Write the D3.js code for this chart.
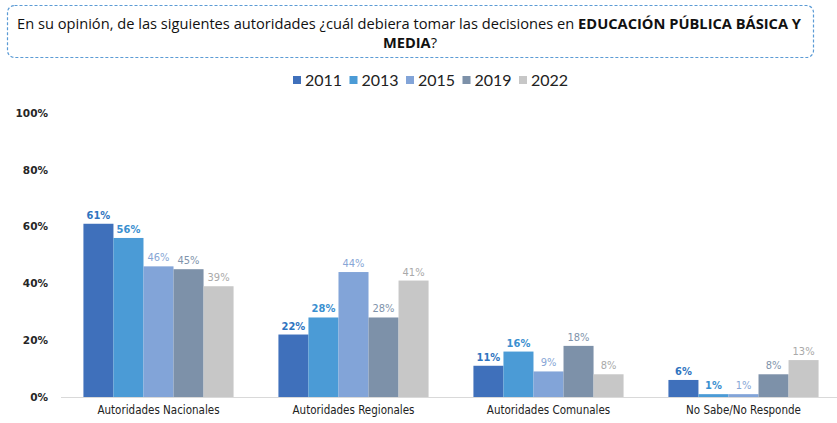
<!DOCTYPE html>
<html>
<head>
<meta charset="utf-8">
<script src="https://cdn.jsdelivr.net/npm/d3@7"></script>
<style>
  body { margin: 0; background: #fff; }
  svg { display: block; }
</style>
</head>
<body>
<div id="chart"></div>
<script>
const categories = ['Autoridades Nacionales', 'Autoridades Regionales', 'Autoridades Comunales', 'No Sabe/No Responde'];
const years = ['2011', '2013', '2015', '2019', '2022'];
const values2011 = [61, 22, 11, 6];
const values2013 = [56, 28, 16, 1];
const values2015 = [46, 44, 9, 1];
const values2019 = [45, 28, 18, 8];
const values2022 = [39, 41, 8, 13];
const yTicks = [0, 20, 40, 60, 80, 100];

const series = [values2011, values2013, values2015, values2019, values2022];
const barColours = ['#3f70bb', '#4b9bd6', '#82a4d8', '#7d91a9', '#c7c7c7'];
const labelColours = ['#2f74c0', '#3a8fd0', '#87a6d6', '#7f93ab', '#a9a9a9'];

const width = 837;
const height = 423;
const margin = { top: 113, right: 0, bottom: 26, left: 61 };

const svg = d3.select('#chart').append('svg')
  .attr('width', width)
  .attr('height', height);

// Title box
svg.append('rect')
  .attr('x', 7.5).attr('y', 5.5)
  .attr('width', 806).attr('height', 52)
  .attr('rx', 7)
  .attr('fill', 'none')
  .attr('stroke', '#5b9bd5')
  .attr('stroke-width', 1.2)
  .attr('stroke-dasharray', '3,2');

const titleFont = '"Open Sans", "Noto Sans", sans-serif';
const t1 = svg.append('text')
  .attr('x', 17).attr('y', 29)
  .attr('textLength', 784)
  .attr('lengthAdjust', 'spacingAndGlyphs')
  .attr('font-family', titleFont)
  .attr('font-size', 15)
  .attr('fill', '#111');
t1.append('tspan').text('En su opinión, de las siguientes autoridades ¿cuál debiera tomar las decisiones en ');
t1.append('tspan').attr('font-weight', 'bold').text('EDUCACIÓN PÚBLICA BÁSICA Y');

const t2 = svg.append('text')
  .attr('x', 383).attr('y', 48)
  .attr('textLength', 54)
  .attr('lengthAdjust', 'spacingAndGlyphs')
  .attr('font-family', titleFont)
  .attr('font-size', 15)
  .attr('fill', '#111');
t2.append('tspan').attr('font-weight', 'bold').text('MEDIA');
t2.append('tspan').text('?');

// Legend
const legend = svg.append('g')
  .selectAll('g')
  .data(years)
  .join('g')
  .attr('transform', (d, i) => `translate(${293 + i * 56.5}, 80)`);

legend.append('rect')
  .attr('x', 0).attr('y', -4)
  .attr('width', 8).attr('height', 8)
  .attr('fill', (d, i) => barColours[i]);

legend.append('text')
  .attr('x', 12).attr('y', 0)
  .attr('dy', '0.36em')
  .attr('font-family', 'Lato, "Noto Sans", sans-serif')
  .attr('font-size', 16)
  .attr('fill', '#222')
  .text((d) => d);

// Scales
const x0 = d3.scaleBand()
  .domain(categories)
  .range([margin.left, width + 4])
  .paddingInner(0.23)
  .paddingOuter(0.115);

const x1 = d3.scaleBand()
  .domain(years)
  .range([0, x0.bandwidth()]);

const y = d3.scaleLinear()
  .domain([0, 100])
  .range([height - margin.bottom, margin.top]);

// Y axis labels
const yAxis = svg.append('g')
  .attr('transform', 'translate(51,0)')
  .call(d3.axisLeft(y).tickValues(yTicks).tickSize(0).tickFormat((d) => `${d}%`));
yAxis.select('.domain').remove();
yAxis.selectAll('text')
  .attr('font-family', '"DejaVu Sans", sans-serif')
  .attr('font-size', 10.5)
  .attr('font-weight', 'bold')
  .attr('fill', '#262626');

// Bars
const groups = svg.append('g')
  .selectAll('g')
  .data(categories)
  .join('g')
  .attr('transform', (d) => `translate(${x0(d)},0)`);

const cells = groups.selectAll('g')
  .data((c, ci) => years.map((yr, si) => ({ yr, si, v: series[si][ci] })))
  .join('g');

cells.append('rect')
  .attr('x', (d) => x1(d.yr))
  .attr('y', (d) => y(d.v))
  .attr('width', x1.bandwidth())
  .attr('height', (d) => y(0) - y(d.v))
  .attr('fill', (d) => barColours[d.si]);

cells.append('text')
  .attr('x', (d) => x1(d.yr) + x1.bandwidth() / 2)
  .attr('y', (d) => y(d.v) - 5)
  .attr('text-anchor', 'middle')
  .attr('font-family', '"DejaVu Sans Condensed", "DejaVu Sans", sans-serif')
  .attr('font-size', 11)
  .attr('font-weight', (d) => (d.si < 2 ? 'bold' : 'normal'))
  .attr('fill', (d) => labelColours[d.si])
  .text((d) => `${d.v}%`);

// Baseline
svg.append('line')
  .attr('x1', margin.left).attr('x2', width)
  .attr('y1', y(0) + 0.5).attr('y2', y(0) + 0.5)
  .attr('stroke', '#d9d9d9')
  .attr('stroke-width', 1);

// Category labels
const xAxis = svg.append('g')
  .attr('transform', `translate(0,${y(0) + 6})`)
  .call(d3.axisBottom(x0).tickSize(0));
xAxis.select('.domain').remove();
xAxis.selectAll('text')
  .attr('font-family', '"DejaVu Sans Condensed", "DejaVu Sans", sans-serif')
  .attr('font-size', 11.5)
  .attr('fill', '#222');
</script>
</body>
</html>
